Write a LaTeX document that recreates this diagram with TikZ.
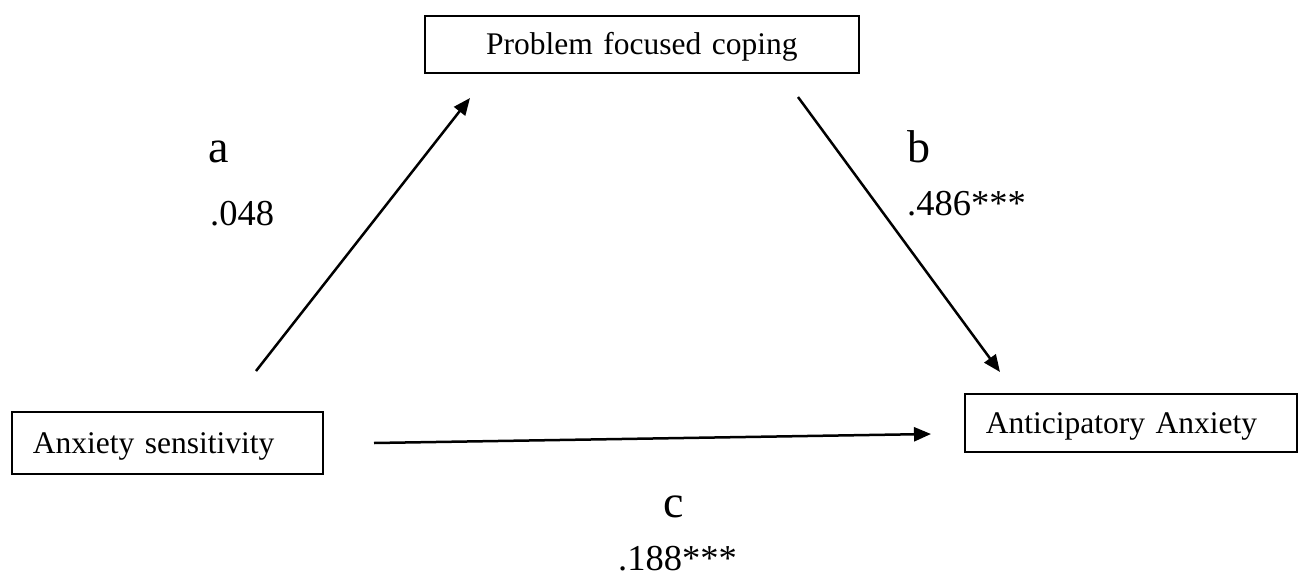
\documentclass[tikz,border=0pt]{standalone}
\usepackage{fontspec}
\setmainfont{Liberation Serif}
\usetikzlibrary{arrows.meta}
\begin{document}
\begin{tikzpicture}[x=1pt,y=-1pt,
  boxnode/.style={draw, line width=1.8pt, anchor=north west, inner ysep=0pt,
    font=\fontsize{31.5}{36}\selectfont, text height=22pt, text depth=1pt},
  arr/.style={line width=2.5pt, -{Triangle[length=17pt,width=14pt]}},
  letter/.style={anchor=base west, inner sep=0pt, font=\fontsize{46}{50}\selectfont},
  coef/.style={anchor=base west, inner sep=0pt, font=\fontsize{36.5}{40}\selectfont}]
\useasboundingbox (0,0) rectangle (1298,586);

\node[boxnode, minimum height=57pt, inner xsep=0pt, text width=434pt, align=center] (pfc) at (424,15) {Problem focused coping};
\node[boxnode, minimum height=62pt, inner xsep=21pt, text width=269pt, align=left] (as) at (11,411) {Anxiety sensitivity};
\node[boxnode, minimum height=58pt, inner xsep=21pt, text width=290pt, align=left] (aa) at (964,393) {Anticipatory Anxiety};

\coordinate (aS) at (256,371);
\coordinate (aE) at (470,98);
\coordinate (bS) at (798,97);
\coordinate (bE) at (1000,372);
\coordinate (cS) at (374,443);
\coordinate (cE) at (931,434);

\draw[arr] (aS) -- (aE);
\draw[arr] (bS) -- (bE);
\draw[arr] (cS) -- (cE);

\node[letter] (la) at (208,162) {a};
\node[coef] (na) at (210,225) {.048};
\node[letter] (lb) at (907,162) {b};
\node[coef] (nb) at (907,215) {.486***};
\node[letter] (lc) at (663,517) {c};
\node[coef] (nc) at (618,570) {.188***};
\end{tikzpicture}
\end{document}
